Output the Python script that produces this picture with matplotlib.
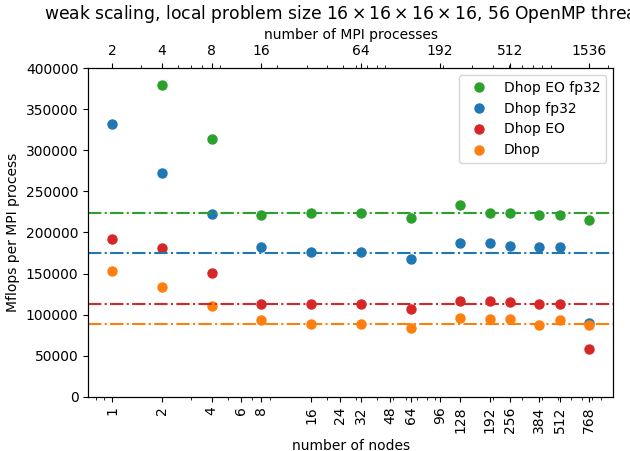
import numpy as np
import matplotlib
matplotlib.use("Agg")
from matplotlib import pyplot as plt

nodes = np.array([1, 2, 4, 8, 16, 32, 64, 128, 192, 256, 384, 512, 768])

# Mflops per MPI process for each kernel (nan = not measured)
dhop_eo_fp32 = np.array([np.nan, 379800, 313500, 221000, 224200, 223500, 217800,
                         233600, 223500, 224200, 221000, 221400, 215400])
dhop_fp32 = np.array([331700, 272300, 222300, 181800, 175700, 175700, 167700,
                      186700, 186700, 183900, 182600, 182600, 90200])
dhop_eo = np.array([191500, 181400, 150800, 112700, 112400, 113200, 107100,
                    117200, 117200, 116000, 113200, 112400, 57800])
dhop = np.array([153600, 133300, 111100, 93300, 89000, 89000, 84100,
                 96200, 95000, 95000, 86900, 93000, 87700])

# reference levels
ref_levels = {
    "Dhop EO fp32": 224000,
    "Dhop fp32": 175500,
    "Dhop EO": 112500,
    "Dhop": 89000,
}

node_ticks = [1, 2, 4, 6, 8, 16, 24, 32, 48, 64, 96, 128, 192, 256, 384, 512, 768]
proc_ticks = [2, 4, 8, 16, 64, 192, 512, 1536]

series = [
    ("Dhop EO fp32", dhop_eo_fp32, "tab:green"),
    ("Dhop fp32", dhop_fp32, "tab:blue"),
    ("Dhop EO", dhop_eo, "tab:red"),
    ("Dhop", dhop, "tab:orange"),
]


def main():
    fig = plt.figure(figsize=(6.3, 4.51), dpi=100)
    ax = fig.add_axes([0.14, 0.12, 0.833, 0.729])

    for name, vals, c in series:
        ax.plot(nodes, vals, "o", color=c, markersize=6.5, label=name)
    for name, vals, c in series:
        ax.axhline(ref_levels[name], color=c, linestyle="-.", linewidth=1.5)

    ax.set_xscale("log")
    ax.set_xticks(node_ticks, [str(n) for n in node_ticks], rotation=90)
    ax.set_ylim(0, 400000)
    ax.set_yticks(np.arange(0, 400001, 50000))
    ax.set_xlabel("number of nodes")
    ax.set_ylabel("Mflops per MPI process")
    ax.legend(loc="upper right")

    lo, hi = ax.get_xlim()
    ax2 = ax.twiny()
    ax2.set_xscale("log")
    ax2.set_xlim(2 * lo, 2 * hi)
    ax2.set_xticks(proc_ticks, [str(p) for p in proc_ticks])
    ax2.set_xlabel("number of MPI processes")

    ax.set_title(r"weak scaling, local problem size $16\times16\times16\times16$, "
                 "56 OpenMP threads", fontsize=12.3)

    fig.savefig("out.png", dpi=100)


if __name__ == "__main__":
    main()
